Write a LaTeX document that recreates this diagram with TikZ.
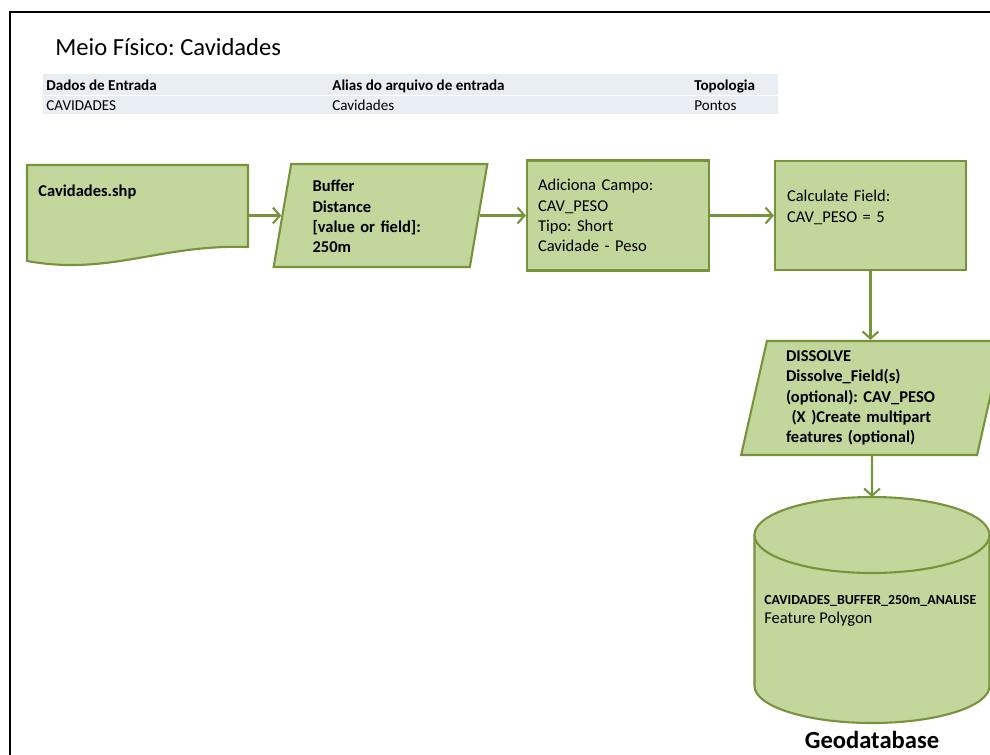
\documentclass[tikz,border=0pt]{standalone}
\usepackage{fontspec}
\setmainfont{Carlito}
\frenchspacing
\usetikzlibrary{shapes.geometric,arrows.meta}

\definecolor{olivedark}{HTML}{77933C}
\definecolor{olivelight}{HTML}{C3D69B}
\definecolor{tablebg}{HTML}{E9EDF4}

\tikzset{
  gbox/.style={draw=olivedark, fill=olivelight, line width=1.2pt},
  flow/.style={draw=olivedark, line width=1.2pt, -{Straight Barb[length=4pt,width=9pt]}},
  boxtxt/.style={font=\fontsize{9.4}{11.5}\selectfont, align=left},
  tabtxt/.style={font=\fontsize{8.6}{10}\selectfont, anchor=base west, inner sep=0pt},
}

\begin{document}
\begin{tikzpicture}[x=0.02cm, y=-0.02cm]
  \useasboundingbox (0,0) rectangle (990,754);
  % page frame
  \draw[line width=1.1pt] (10,760) -- (10,12) -- (1000,12);

  % title and input table
  \node[anchor=base west, inner sep=0pt, font=\fontsize{14}{16}\selectfont] (title) at (55,55) {Meio Físico: Cavidades};
  \fill[tablebg] (43,74) rectangle (778,95);
  \fill[tablebg] (43,96) rectangle (778,114);
  \node[tabtxt, font=\fontsize{8.6}{10}\selectfont\bfseries] (h1) at (46,90.5) {Dados de Entrada};
  \node[tabtxt, font=\fontsize{8.6}{10}\selectfont\bfseries] (h2) at (332,90.5) {Alias do arquivo de entrada};
  \node[tabtxt, font=\fontsize{8.6}{10}\selectfont\bfseries] (h3) at (694,90.5) {Topologia};
  \node[tabtxt] (d1) at (46,110) {CAVIDADES};
  \node[tabtxt] (d2) at (332,110) {Cavidades};
  \node[tabtxt] (d3) at (694,110) {Pontos};

  % input document
  \draw[gbox] (27,165) -- (248,165) -- (248,247)
    .. controls (160,244) and (110,276) .. (27,261) -- cycle;
  \node[boxtxt, font=\fontsize{9.4}{11.5}\selectfont\bfseries, anchor=base west, inner sep=0pt] (shp) at (38,196) {Cavidades.shp};
  \coordinate (shp-out) at (248,215.5);

  % processing steps
  \node[gbox, trapezium, trapezium left angle=80, trapezium right angle=100,
        trapezium stretches=true, minimum width=4.3cm, minimum height=2.06cm,
        boxtxt, font=\fontsize{9.4}{11.5}\selectfont\bfseries, text width=2.72cm, text depth=33.5pt] (buf) at (380.5,215.5)
        {Buffer\\Distance\\{[value or field]:}\\250m};
  \node[gbox, rectangle, minimum width=3.64cm, minimum height=2.2cm,
        boxtxt, text width=3.2cm] (add) at (618,215.5)
        {Adiciona Campo:\\CAV\_PESO\\Tipo: Short\\Cavidade - Peso};
  \node[gbox, rectangle, minimum width=3.82cm, minimum height=2.18cm,
        boxtxt, text width=3.34cm, text depth=22pt] (calc) at (870.5,215.5)
        {Calculate Field:\\CAV\_PESO = 5};
  \node[gbox, trapezium, trapezium left angle=78, trapezium right angle=102,
        trapezium stretches=true, minimum width=5.24cm, minimum height=2.28cm,
        boxtxt, font=\fontsize{9.4}{11.5}\selectfont\bfseries, text width=3.44cm] (dis) at (872,398)
        {DISSOLVE\\Dissolve\_Field(s)\\(optional): CAV\_PESO\\\ (X )Create multipart\\features (optional)};

  % output geodatabase
  \draw[gbox] (754.5,535) -- (754.5,686)
    arc[start angle=180, end angle=0, x radius=117.5, y radius=37] -- (989.5,535) -- cycle;
  \draw[gbox] (872,535) ellipse [x radius=117.5, y radius=38];
  \coordinate (gdb-top) at (872,497);
  \node[anchor=base west, inner sep=0pt, font=\fontsize{7.9}{9}\selectfont\bfseries] (gdb-name) at (764,604) {CAVIDADES\_BUFFER\_250m\_ANALISE};
  \node[anchor=base west, inner sep=0pt, boxtxt] (gdb-type) at (764,623) {Feature Polygon};
  \node[font=\fontsize{14}{16}\selectfont\bfseries, inner sep=0pt] (gdb) at (872,740) {Geodatabase};

  % connectors
  \draw[flow] (shp-out) -- (shp-out -| buf.west);
  \draw[flow] (buf.east |- add.west) -- (add.west);
  \draw[flow] (add.east) -- (calc.west);
  \draw[flow] (calc.south) -- (calc.south |- dis.north);
  \draw[flow] (dis.south) -- (gdb-top);
\end{tikzpicture}
\end{document}
